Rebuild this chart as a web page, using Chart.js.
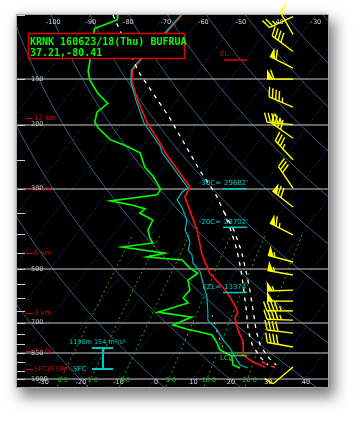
<!DOCTYPE html>
<html><head><meta charset="utf-8">
<script src="https://cdn.jsdelivr.net/npm/chart.js@4"></script>
<style>
html,body{margin:0;padding:0;background:#fff;overflow:hidden;}
#wrap{position:relative;width:363px;height:421px;}
#frame{position:absolute;left:17px;top:15px;width:311px;height:372px;background:#000;
 box-shadow:5px 8px 13px 2px rgba(0,0,0,0.5),-1px -1px 5px rgba(0,0,0,0.2);}
canvas{position:absolute;left:0;top:0;}
</style></head><body>
<div id="wrap"><div id="frame"></div><canvas id="c" width="363" height="421"></canvas></div>
<script>
// ---- sounding data (pressure hPa, temperature degC) ----
const tempP = [100,111,137,142,153,173,197,230,239,297,316,390,456,512,577,630,655,680,733,791,859,898,927];
const tempT = [-65.7,-66.3,-67.9,-67.8,-65.6,-60.0,-53.6,-44.6,-42.6,-29.1,-28.5,-18.6,-12.3,-6.6,1.8,6.7,8.7,9.1,12.3,16.1,18.7,22.7,26.9];
const dewP = [100,103,109,133,143,151,164,175,185,197,204,220,228,239,262,277,301,312,324,333,341,350,366,390,410,423,434,451,462,471,496,512,535,570,599,618,655,676,711,733,743,757,796,832,865,915,933];
const dewT = [-82.8,-82.0,-86.3,-81.2,-79.4,-77.2,-72.5,-67.8,-68.9,-67.5,-65.5,-59.9,-54.9,-49.3,-45.1,-41.2,-36.5,-36.3,-47.6,-40.7,-36.7,-37.3,-32.4,-31.7,-29.6,-27.8,-35.2,-22.6,-26.6,-16.6,-12.9,-9.8,-11.0,-8.5,-8.7,-6.4,-12.6,-2.6,-6.0,-0.5,2.6,6.4,9.3,11.5,15.9,18.0,20.5];
const wetP = [100,111,137,142,153,173,198,230,239,299,306,322,337,366,390,407,423,442,456,480,508,545,595,655,689,733,781,822,870,915,933];
const wetT = [-66.0,-66.6,-68.2,-68.1,-65.9,-60.5,-54.2,-45.1,-43.4,-29.4,-30.2,-30.0,-27.3,-23.3,-21.8,-19.6,-17.9,-17.0,-15.0,-13.1,-9.4,-6.4,-2.6,0.7,2.3,6.7,10.3,13.8,16.9,19.9,22.6];
const parcelAP = [100,143,192,267,308,348,390,442,502,570,646,733,806,870,915];
const parcelAT = [-84.1,-66.0,-48.3,-29.9,-21.3,-15.0,-9.6,-4.0,1.1,5.9,10.5,15.0,19.1,23.6,27.3];
const parcelBP = [348,390,442,502,570,646,733,806,870,915];
const parcelBT = [-15.0,-8.8,-2.9,2.4,7.5,12.3,17.1,21.2,25.7,29.5];
const downP = [667,757,832,898];
const downT = [2.4,8.0,12.6,17.1];
const virtP = [898,933];
const virtT = [25.1,30.1];
// ---- winds ----
const windP   = [101,113,126,140,150,179,200,218,250,299,337,402,477,518,570,611,650,689,748,817,927];
const windDir = [245,330,307,297,270,293,275,305,317,326,308,297,285,280,268,270,270,272,277,280,230];
const windSpd = [25,15,40,60,60,45,45,40,35,30,70,65,55,55,55,50,45,45,40,40,10];
// ---- axes / labels ----
const topTempLabels = [-100,-90,-80,-70,-60,-50,-40,-30];
const botTempLabels = [-30,-20,-10,0,10,20,30,40];
const pressLines = [150,200,300,500,700,850,1000];
const pressLabels = ['150','200','300','500','700','850','1000'];
const mixRatios = [0.5,1.0,2.0,5.0,10.0,20.0];
const mixLabels = ['0.5','1.0','2.0','5.0','10.0','20.0'];
const heightP = [192,300,451,659,838,939];
const heightLabels = ['12 km','9 km','6 km','3 km','1 km','SFC(639m)'];
const title1 = 'KRNK 160623/18(Thu) BUFRUA';
const title2 = '37.21,-80.41';
const levelP = [290,370,559];
const levelLabels = ['-30C=','-20C=','FZL='];
const levelValues = ["29682'","23702'","13374'"];
const elP = 133, lclP = 859;
const helicityTopP = 822, helicitySfcP = 939;
const helicityText = '1190m 154 m²/s²';

const SK = 31.66;
const toX = (t,p) => t + SK*Math.log(1000/p);
const series = (P,T) => P.map((p,i)=>({x:toX(T[i],p), y:p}));

function mixT(w,p){ const e=w*p/(622+w); const l=Math.log(e/6.112); return 243.5*l/(17.67-l); }

const grid = {
  id:'grid',
  beforeDatasetsDraw(chart){
    const {ctx, chartArea:a, scales:{x,y}} = chart;
    const P=(t,p)=>[x.getPixelForValue(toX(t,p)), y.getPixelForValue(p)];
    ctx.save();
    ctx.beginPath(); ctx.rect(a.left,a.top,a.right-a.left,a.bottom-a.top); ctx.clip();
    // isotherms
    ctx.strokeStyle='#23468a'; ctx.lineWidth=1; ctx.setLineDash([1,2]);
    for(let t=-160;t<=60;t+=10){ const [x1,y1]=P(t,1080),[x2,y2]=P(t,98); ctx.beginPath(); ctx.moveTo(x1,y1); ctx.lineTo(x2,y2); ctx.stroke(); }
    // dry adiabats
    ctx.setLineDash([]); ctx.strokeStyle='#3e5c80'; ctx.lineWidth=1;
    for(let th=-40; th<=240; th+=20){
      ctx.beginPath(); let first=true;
      for(let p=1080;p>=97;p*=0.98){ const t=(th+273.15)*Math.pow(p/1000,0.2857)-273.15; const [px,py]=P(t,p); if(first){ctx.moveTo(px,py);first=false;} else ctx.lineTo(px,py); }
      ctx.stroke();
    }
    // mixing ratio lines
    ctx.strokeStyle='#22a822'; ctx.setLineDash([2,3]); ctx.lineWidth=1;
    mixRatios.forEach(w=>{ ctx.beginPath(); let first=true;
      for(let p=1080;p>=399;p*=0.97){ const [px,py]=P(mixT(w,p),p); if(first){ctx.moveTo(px,py);first=false;} else ctx.lineTo(px,py); }
      const [qx,qy]=P(mixT(w,400),400); ctx.lineTo(qx,qy); ctx.stroke(); });
    ctx.setLineDash([]);
    // pressure lines
    ctx.strokeStyle='#8a8a8a'; ctx.lineWidth=1.5;
    pressLines.forEach(p=>{ const py=Math.round(y.getPixelForValue(p)); ctx.beginPath(); ctx.moveTo(a.left,py); ctx.lineTo(a.right,py); ctx.stroke(); });
    // left ticks
    ctx.strokeStyle='#cfcfcf'; ctx.lineWidth=1;
    for(let p=100;p<=1050;p+=50){ const py=Math.round(y.getPixelForValue(p))+0.5; ctx.beginPath(); ctx.moveTo(a.left,py); ctx.lineTo(a.left+8,py); ctx.stroke(); }
    ctx.restore();
  }
};

function barb(ctx,x0,y0,dir,spd){
  const L=26,F=10,S=3.6;
  const r=dir*Math.PI/180, ux=Math.sin(r), uy=-Math.cos(r);
  const nx=-uy, ny=ux;
  const fx=0.94*nx+0.34*ux, fy=0.94*ny+0.34*uy;
  const ex=x0+ux*L, ey=y0+uy*L;
  ctx.beginPath(); ctx.moveTo(x0,y0); ctx.lineTo(ex,ey); ctx.stroke();
  let s=Math.round(spd/5)*5, pos=0;
  while(s>=50){ const bx=ex-ux*pos, by=ey-uy*pos;
    ctx.beginPath(); ctx.moveTo(bx,by); ctx.lineTo(bx+nx*F,by+ny*F); ctx.lineTo(bx-ux*6,by-uy*6); ctx.closePath(); ctx.fill();
    pos+=7; s-=50; }
  while(s>=10){ const bx=ex-ux*pos, by=ey-uy*pos;
    ctx.beginPath(); ctx.moveTo(bx,by); ctx.lineTo(bx+fx*F,by+fy*F); ctx.stroke(); pos+=S; s-=10; }
  if(s>=5){ if(pos===0) pos=S; const bx=ex-ux*pos, by=ey-uy*pos;
    ctx.beginPath(); ctx.moveTo(bx,by); ctx.lineTo(bx+fx*F/2,by+fy*F/2); ctx.stroke(); }
}

const overlay = {
  id:'overlay',
  afterDatasetsDraw(chart){
    const {ctx, chartArea:a, scales:{x,y}} = chart;
    const P=(t,p)=>[x.getPixelForValue(toX(t,p)), y.getPixelForValue(p)];
    ctx.save();
    ctx.textBaseline='middle';
    // temperature labels
    ctx.font='6.5px "DejaVu Sans"'; ctx.fillStyle='#d8d8d8'; ctx.textAlign='center';
    topTempLabels.forEach(t=>{ const [px]=P(t,100); ctx.fillText(String(t),px,a.top+7); });
    botTempLabels.forEach(t=>{ const [px]=P(t,1000); ctx.fillText(String(t),px+1,y.getPixelForValue(1000)+3); });
    // pressure labels
    ctx.textAlign='left'; ctx.fillStyle='#c8c8c8';
    pressLines.forEach((p,i)=>{ ctx.fillText(pressLabels[i],a.left+14,y.getPixelForValue(p)); });
    // mixing ratio labels
    ctx.fillStyle='#22b022'; ctx.textAlign='center'; ctx.font='6.5px "DejaVu Sans"';
    mixRatios.forEach((w,i)=>{ const [px]=P(mixT(w,1000),1000); ctx.fillText(mixLabels[i],px+2,y.getPixelForValue(1000)+1); });
    // height labels
    ctx.textAlign='left'; ctx.font='7px "DejaVu Sans"'; ctx.fillStyle='#d00000'; ctx.strokeStyle='#d00000'; ctx.lineWidth=1;
    heightP.forEach((p,i)=>{ const py=Math.round(y.getPixelForValue(p))+0.5; ctx.beginPath(); ctx.moveTo(a.left+9,py); ctx.lineTo(a.left+16,py); ctx.stroke(); ctx.fillText(heightLabels[i],a.left+17,py); });
    // helicity
    ctx.fillStyle='#00c8c8'; ctx.strokeStyle='#00c8c8';
    const hy1=y.getPixelForValue(helicityTopP), hy2=y.getPixelForValue(helicitySfcP);
    ctx.fillText('SFC',a.left+56,hy2);
    ctx.font='6.5px "DejaVu Sans"'; ctx.fillText(helicityText,a.left+52,hy1-6);
    ctx.lineWidth=2; ctx.beginPath();
    ctx.moveTo(a.left+75,hy1); ctx.lineTo(a.left+96,hy1);
    ctx.moveTo(a.left+86,hy1); ctx.lineTo(a.left+86,hy2);
    ctx.moveTo(a.left+75,hy2); ctx.lineTo(a.left+96,hy2); ctx.stroke();
    // level labels (-30C, -20C, FZL)
    ctx.font='7px "DejaVu Sans"'; ctx.lineWidth=1.5;
    levelP.forEach((p,i)=>{ const py=y.getPixelForValue(p); ctx.textAlign='right'; ctx.fillText(levelLabels[i],a.left+204,py);
      ctx.textAlign='left'; ctx.fillText(levelValues[i],a.left+207,py);
      ctx.beginPath(); ctx.moveTo(a.left+206,py+5.5); ctx.lineTo(a.left+230,py+5.5); ctx.stroke(); });
    // EL
    ctx.fillStyle='#e00000'; ctx.strokeStyle='#e00000'; ctx.lineWidth=1.5; ctx.textAlign='left';
    const ely=y.getPixelForValue(elP);
    ctx.fillText('EL',a.left+203,ely-6); ctx.beginPath(); ctx.moveTo(a.left+207,ely); ctx.lineTo(a.left+230,ely); ctx.stroke();
    // LCL
    ctx.fillStyle='#22c022'; ctx.strokeStyle='#22dd22';
    const lcy=Math.round(y.getPixelForValue(lclP))+0.5;
    ctx.fillText('LCL',a.left+203,lcy+3); ctx.beginPath(); ctx.moveTo(a.left+215,lcy); ctx.lineTo(a.left+230,lcy); ctx.stroke();
    // wind barbs
    ctx.strokeStyle='#ffff00'; ctx.fillStyle='#ffff00'; ctx.lineWidth=1.4;
    windP.forEach((p,i)=>{ barb(ctx,a.left+276,y.getPixelForValue(p),windDir[i],windSpd[i]); });
    // title box
    ctx.fillStyle='#000'; ctx.fillRect(28,33,157,26);
    ctx.strokeStyle='#e00000'; ctx.lineWidth=1.5; ctx.strokeRect(28.5,33.5,156,25);
    ctx.fillStyle='#00ff00'; ctx.font='bold 10px "DejaVu Sans Mono"'; ctx.textAlign='left'; ctx.textBaseline='alphabetic';
    ctx.fillText(title1,30,44.5); ctx.fillText(title2,30,56);
    // frame border
    ctx.strokeStyle='#aaaaaa'; ctx.lineWidth=1; ctx.strokeRect(a.left-0.5,a.top-0.5,a.right-a.left+1,a.bottom-a.top+1);
    ctx.restore();
  }
};

const line = (data,color,w,dash)=>({data, borderColor:color, borderWidth:w, borderDash:dash||[], showLine:true, pointRadius:0, fill:false, tension:0});

new Chart(document.getElementById('c'),{
  type:'scatter',
  data:{datasets:[
    line(series(parcelAP,parcelAT),'#ffffff',1.3,[4,5]),
    line(series(parcelBP,parcelBT),'#ffffff',1.3,[4,5]),
    line(series(downP,downT),'#dddddd',1,[2,6]),
    line(series(wetP,wetT),'#00b8b8',1.2),
    line(series(dewP,dewT),'#00ff00',1.6),
    line(series(tempP,tempT),'#ff1010',1.6),
    line(series(virtP,virtT),'#ff2020',1.6,[4,6])
  ]},
  options:{
    responsive:false, animation:false, devicePixelRatio:1,
    layout:{padding:{left:17,top:15,right:35,bottom:34}},
    plugins:{legend:{display:false},tooltip:{enabled:false}},
    scales:{
      x:{type:'linear',min:(17-155)/3.75,max:(328-155)/3.75,display:false},
      y:{type:'logarithmic',min:100,max:1051.9,reverse:true,display:false}
    }
  },
  plugins:[grid,overlay]
});
</script></body></html>
